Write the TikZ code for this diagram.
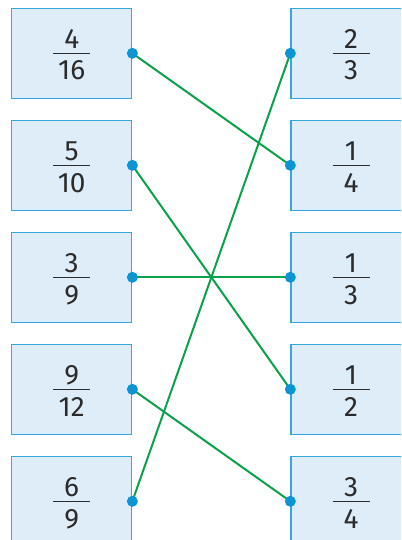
\documentclass[tikz,border=0pt]{standalone}
\usepackage{fontspec}
\setmainfont{Fira Sans}
\usepackage{tikz}

\definecolor{boxfill}{HTML}{DFEDF8}
\definecolor{boxline}{HTML}{34A9DA}
\definecolor{dotblue}{HTML}{0B95D3}
\definecolor{linegreen}{HTML}{0BA14B}
\definecolor{digit}{HTML}{2B2B2B}

\tikzset{
  fracbox/.style={draw=boxline, fill=boxfill, line width=1.3pt, minimum width=120pt, minimum height=90pt, inner sep=0pt},
  digits/.style={text=digit, font=\fontsize{28}{28}\selectfont, inner sep=0pt, anchor=base},
  bar/.style={digit, line width=1.3pt},
  match/.style={linegreen, line width=2pt},
  dot/.style={circle, fill=dotblue, minimum size=11pt, inner sep=0pt}
}

\begin{document}
\begin{tikzpicture}[x=1pt,y=-1pt]
        \clip (0,0) rectangle (401,540);
        \foreach \n/\d [count=\i] in {4/16,5/10,3/9,9/12,6/9} {
            \node[fracbox] (L\i) at (71.7,{53.3+112*(\i-1)}) {};
            \node[digits] (Ln\i) at ([yshift=5pt]L\i.center) {\n};
            \node[digits] (Ld\i) at ([yshift=-26.7pt]L\i.center) {\d};
            \draw[bar] ([xshift=-18.5pt]L\i.center) -- ([xshift=18.5pt]L\i.center);
        }
        \foreach \n/\d [count=\i] in {2/3,1/4,1/3,1/2,3/4} {
            \node[fracbox] (R\i) at (351,{53.3+112*(\i-1)}) {};
            \node[digits] (Rn\i) at ([yshift=5pt]R\i.center) {\n};
            \node[digits] (Rd\i) at ([yshift=-26.7pt]R\i.center) {\d};
            \draw[bar] ([xshift=-18.5pt]R\i.center) -- ([xshift=18.5pt]R\i.center);
        }
        \foreach \a/\b in {1/2,2/4,3/3,4/5,5/1} {
            \draw[match] (L\a.east) -- (R\b.west);
        }
        \foreach \i in {1,...,5} {
            \node[dot] (Ldot\i) at (L\i.east) {};
            \node[dot] (Rdot\i) at (R\i.west) {};
        }
    \end{tikzpicture}
\end{document}
